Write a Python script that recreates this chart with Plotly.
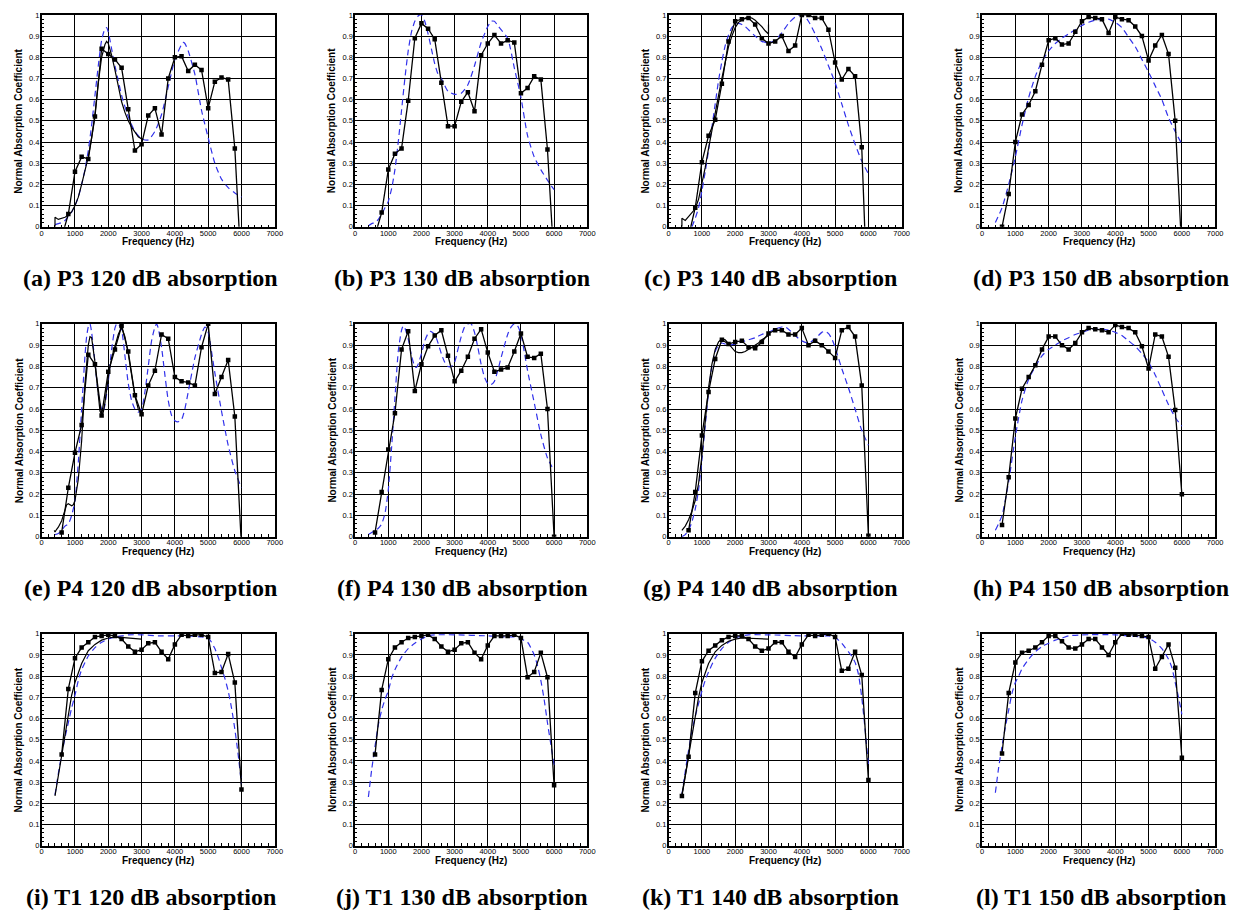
import plotly.graph_objects as go

# ---------------------------------------------------------------------------
# Data: normal-incidence absorption coefficient vs frequency (Hz)
# meas  : swept-sine measurement, 200 Hz steps (black line + squares)
# low   : low-frequency measurement up to 3 kHz (plain black line)
# model : impedance model prediction (blue dashed)
# ---------------------------------------------------------------------------
freq_meas = [600, 800, 1000, 1200, 1400, 1600, 1800, 2000, 2200, 2400, 2600, 2800, 3000, 3200,
             3400, 3600, 3800, 4000, 4200, 4400, 4600, 4800, 5000, 5200, 5400, 5600, 5800, 6000]
freq_meas_400 = [400] + freq_meas

# (a) P3 120 dB
p3_120_meas = [-0.05, 0.06, 0.26, 0.33, 0.32, 0.52, 0.84, 0.815, 0.79, 0.75, 0.555, 0.36, 0.39, 0.525,
               0.56, 0.435, 0.70, 0.80, 0.805, 0.735, 0.765, 0.74, 0.56, 0.685, 0.705, 0.695, 0.37, -0.22]
p3_120_low_f = [400, 400, 500, 600, 700, 800, 900, 1000, 1100, 1200, 1300, 1400, 1500, 1600, 1700, 1800,
                1900, 1950, 2000, 2100, 2200, 2300, 2400, 2500, 2600, 2700, 2800, 2900, 3000, 3050]
p3_120_low = [0.0, 0.045, 0.035, 0.04, 0.045, 0.055, 0.07, 0.10, 0.14, 0.20, 0.26, 0.33, 0.42, 0.53, 0.68, 0.80,
              0.86, 0.875, 0.865, 0.81, 0.74, 0.66, 0.59, 0.54, 0.50, 0.47, 0.445, 0.425, 0.415, 0.415]
p3_120_model_f = [400, 500, 600, 700, 800, 900, 1000, 1100, 1200, 1300, 1400, 1500, 1600, 1700, 1800, 1900,
                  1950, 2000, 2100, 2200, 2300, 2400, 2600, 2800, 3000, 3200, 3400, 3600, 3800, 4000, 4200,
                  4250, 4300, 4400, 4600, 4800, 5000, 5200, 5400, 5600, 5800, 6000]
p3_120_model = [0.01, 0.015, 0.02, 0.03, 0.05, 0.07, 0.10, 0.14, 0.20, 0.27, 0.36, 0.48, 0.62, 0.76, 0.88, 0.935,
                0.94, 0.92, 0.84, 0.76, 0.69, 0.62, 0.52, 0.45, 0.415, 0.41, 0.45, 0.53, 0.66, 0.79, 0.86,
                0.87, 0.865, 0.83, 0.72, 0.55, 0.42, 0.30, 0.225, 0.185, 0.16, 0.14]

# (b) P3 130 dB
p3_130_meas = [-0.04, 0.067, 0.27, 0.345, 0.37, 0.595, 0.89, 0.96, 0.935, 0.885, 0.68, 0.475, 0.475, 0.59,
               0.635, 0.545, 0.81, 0.865, 0.905, 0.865, 0.88, 0.87, 0.63, 0.655, 0.71, 0.695, 0.365, -0.17]
p3_130_model_f = [400, 500, 600, 700, 800, 900, 1000, 1100, 1200, 1300, 1400, 1500, 1600, 1700, 1800, 1900,
                  2000, 2100, 2200, 2300, 2400, 2500, 2600, 2800, 3000, 3200, 3400, 3600, 3800, 4000, 4100,
                  4200, 4300, 4400, 4600, 4800, 5000, 5200, 5400, 5600, 5800, 6000]
p3_130_model = [0.005, 0.015, 0.02, 0.035, 0.06, 0.09, 0.12, 0.18, 0.27, 0.40, 0.55, 0.70, 0.83, 0.92, 0.97, 0.995,
                1.0, 0.97, 0.91, 0.84, 0.77, 0.72, 0.70, 0.64, 0.625, 0.63, 0.67, 0.76, 0.87, 0.945, 0.97,
                0.97, 0.95, 0.93, 0.89, 0.75, 0.61, 0.43, 0.33, 0.27, 0.22, 0.175]

# (c) P3 140 dB
p3_140_meas = [-0.045, 0.09, 0.305, 0.43, 0.505, 0.675, 0.875, 0.97, 0.98, 0.985, 0.955, 0.89, 0.865, 0.875,
               0.90, 0.83, 0.855, 1.0, 1.0, 0.985, 0.985, 0.93, 0.775, 0.695, 0.745, 0.71, 0.375, -0.47]
p3_140_low_f = [400, 400, 500, 600, 700, 800, 900, 1000, 1100, 1200, 1300, 1400, 1500, 1600, 1700, 1800,
                1900, 2000, 2100, 2200, 2300, 2400, 2500, 2600, 2700, 2800, 2900, 3000, 3000]
p3_140_low = [0.0, 0.04, 0.03, 0.05, 0.065, 0.085, 0.13, 0.20, 0.28, 0.37, 0.46, 0.54, 0.62, 0.70, 0.78, 0.85,
              0.90, 0.94, 0.965, 0.975, 0.985, 0.99, 0.985, 0.975, 0.96, 0.945, 0.925, 0.91, 0.955]
p3_140_model_f = [700, 800, 900, 1000, 1100, 1200, 1300, 1400, 1500, 1600, 1700, 1800, 1900, 2000, 2100, 2200,
                  2300, 2400, 2600, 2800, 3000, 3200, 3400, 3600, 3800, 3950, 4100, 4200, 4400, 4600, 4800,
                  5000, 5200, 5400, 5600, 5800, 6000]
p3_140_model = [0.0, 0.04, 0.09, 0.17, 0.26, 0.36, 0.47, 0.58, 0.69, 0.78, 0.855, 0.905, 0.94, 0.955, 0.96, 0.955,
                0.945, 0.93, 0.90, 0.875, 0.868, 0.88, 0.915, 0.96, 0.99, 1.0, 0.99, 0.97, 0.91, 0.84, 0.76,
                0.68, 0.58, 0.48, 0.39, 0.31, 0.25]

# (d) P3 150 dB
p3_150_meas = [0.0, 0.155, 0.40, 0.53, 0.575, 0.64, 0.765, 0.88, 0.89, 0.86, 0.865, 0.92, 0.97, 0.99,
               0.985, 0.98, 0.915, 0.99, 0.98, 0.975, 0.945, 0.90, 0.785, 0.855, 0.905, 0.815, 0.50, -0.12]
p3_150_model_f = [400, 600, 800, 1000, 1200, 1400, 1600, 1800, 2000, 2200, 2400, 2600, 2800, 3000, 3200,
                  3400, 3600, 3800, 4000, 4200, 4400, 4600, 4800, 5000, 5200, 5400, 5600, 5800, 6000]
p3_150_model = [0.02, 0.09, 0.20, 0.33, 0.48, 0.61, 0.71, 0.78, 0.83, 0.865, 0.89, 0.91, 0.93, 0.95, 0.965,
                0.975, 0.98, 0.98, 0.965, 0.94, 0.895, 0.85, 0.79, 0.73, 0.665, 0.60, 0.515, 0.45, 0.39]

# (e) P4 120 dB
p4_120_meas = [0.02, 0.23, 0.395, 0.525, 0.855, 0.81, 0.57, 0.775, 0.88, 0.99, 0.87, 0.665, 0.575, 0.71,
               0.78, 0.95, 0.93, 0.75, 0.73, 0.725, 0.71, 0.89, 1.0, 0.67, 0.75, 0.83, 0.565, -0.05]
p4_120_low_f = [380, 400, 450, 500, 600, 700, 750, 800, 850, 900, 950, 1000, 1100, 1200, 1300, 1400, 1450,
                1500, 1600, 1700, 1750, 1800, 1850, 1900, 2000, 2100, 2200, 2300, 2400, 2500, 2600, 2700,
                2800, 2900, 3000]
p4_120_low = [0.03, 0.022, 0.035, 0.045, 0.075, 0.12, 0.15, 0.155, 0.15, 0.145, 0.15, 0.17, 0.27, 0.45, 0.72,
              0.90, 0.94, 0.935, 0.82, 0.65, 0.59, 0.575, 0.585, 0.63, 0.75, 0.84, 0.90, 0.95, 0.985, 0.94,
              0.86, 0.75, 0.66, 0.60, 0.575]
p4_120_model_f = [400, 500, 600, 700, 800, 900, 1000, 1100, 1200, 1300, 1350, 1400, 1450, 1500, 1600, 1700,
                  1800, 1850, 1900, 2000, 2100, 2200, 2250, 2300, 2400, 2500, 2600, 2700, 2800, 2900, 3000,
                  3100, 3200, 3300, 3400, 3450, 3500, 3600, 3700, 3800, 3900, 4000, 4100, 4200, 4300, 4400,
                  4600, 4800, 4900, 5000, 5100, 5200, 5400, 5600, 5800, 6000]
p4_120_model = [0.01, 0.015, 0.03, 0.05, 0.06, 0.10, 0.17, 0.35, 0.60, 0.85, 0.94, 0.985, 1.0, 0.96, 0.82, 0.67,
                0.60, 0.59, 0.62, 0.73, 0.88, 0.98, 1.0, 1.0, 0.97, 0.85, 0.72, 0.64, 0.60, 0.585, 0.60,
                0.68, 0.80, 0.92, 0.985, 1.0, 0.98, 0.89, 0.76, 0.64, 0.57, 0.545, 0.54, 0.55, 0.60, 0.68,
                0.84, 0.95, 0.985, 0.96, 0.87, 0.77, 0.59, 0.43, 0.31, 0.23]

# (f) P4 130 dB
p4_130_meas = [0.02, 0.21, 0.41, 0.58, 0.88, 0.965, 0.685, 0.81, 0.895, 0.945, 0.97, 0.85, 0.73, 0.78,
               0.845, 0.93, 0.975, 0.865, 0.775, 0.785, 0.795, 0.87, 0.955, 0.845, 0.84, 0.86, 0.60, 0.0]
p4_130_model_f = [400, 500, 600, 700, 800, 900, 1000, 1100, 1200, 1300, 1400, 1450, 1500, 1600, 1700, 1800,
                  1850, 1900, 2000, 2100, 2200, 2270, 2400, 2500, 2600, 2700, 2800, 2900, 3000, 3100, 3200,
                  3300, 3400, 3500, 3600, 3700, 3800, 3900, 4000, 4100, 4200, 4300, 4400, 4600, 4700, 4800,
                  4900, 5000, 5100, 5200, 5400, 5600, 5800, 6000]
p4_130_model = [0.01, 0.02, 0.03, 0.04, 0.06, 0.11, 0.22, 0.42, 0.65, 0.87, 0.97, 0.99, 0.98, 0.93, 0.85, 0.80,
                0.795, 0.81, 0.86, 0.92, 0.955, 0.965, 0.95, 0.91, 0.86, 0.82, 0.80, 0.80, 0.82, 0.88, 0.94,
                0.985, 1.0, 1.0, 0.96, 0.89, 0.81, 0.75, 0.72, 0.715, 0.73, 0.78, 0.84, 0.95, 0.985, 1.0,
                0.99, 0.95, 0.87, 0.78, 0.63, 0.48, 0.37, 0.31]

# (g) P4 140 dB
p4_140_meas = [0.03, 0.21, 0.475, 0.68, 0.835, 0.925, 0.905, 0.915, 0.92, 0.89, 0.885, 0.915, 0.955, 0.97,
               0.97, 0.95, 0.95, 0.98, 0.90, 0.92, 0.90, 0.87, 0.84, 0.97, 0.985, 0.94, 0.71, 0.005]
p4_140_low_f = [400, 500, 600, 700, 800, 900, 1000, 1100, 1200, 1300, 1400, 1500, 1600, 1700, 1800, 1900,
                2000, 2100, 2200, 2300, 2400, 2500, 2600, 2700, 2800, 2900, 3000]
p4_140_low = [0.03, 0.05, 0.08, 0.12, 0.17, 0.25, 0.38, 0.55, 0.70, 0.81, 0.88, 0.915, 0.93, 0.925, 0.905,
              0.885, 0.87, 0.865, 0.865, 0.87, 0.88, 0.89, 0.90, 0.91, 0.925, 0.935, 0.945]
p4_140_model_f = [400, 500, 600, 700, 800, 900, 1000, 1100, 1200, 1300, 1400, 1500, 1600, 1700, 1800, 2000,
                  2200, 2400, 2600, 2800, 3000, 3200, 3400, 3500, 3600, 3800, 4000, 4200, 4400, 4600, 4700,
                  4800, 4900, 5000, 5100, 5200, 5400, 5600, 5800, 6000]
p4_140_model = [0.0, 0.01, 0.03, 0.07, 0.13, 0.22, 0.36, 0.52, 0.68, 0.80, 0.87, 0.90, 0.91, 0.905, 0.90, 0.905,
                0.915, 0.925, 0.935, 0.95, 0.96, 0.975, 0.985, 0.985, 0.975, 0.945, 0.92, 0.91, 0.93, 0.96,
                0.965, 0.955, 0.93, 0.89, 0.84, 0.79, 0.70, 0.60, 0.50, 0.43]

# (h) P4 150 dB
p4_150_meas = [0.055, 0.28, 0.555, 0.695, 0.75, 0.805, 0.88, 0.94, 0.94, 0.90, 0.88, 0.91, 0.96, 0.98,
               0.975, 0.97, 0.96, 0.995, 0.985, 0.98, 0.96, 0.895, 0.79, 0.95, 0.94, 0.845, 0.595, 0.20]
p4_150_model_f = [400, 600, 800, 1000, 1200, 1400, 1600, 1800, 2000, 2200, 2400, 2600, 2800, 3000, 3200,
                  3400, 3600, 3800, 4000, 4200, 4400, 4600, 4800, 5000, 5200, 5400, 5600, 5800, 6000]
p4_150_model = [0.03, 0.10, 0.26, 0.47, 0.64, 0.74, 0.80, 0.85, 0.88, 0.90, 0.92, 0.935, 0.95, 0.96, 0.97,
                0.975, 0.975, 0.97, 0.96, 0.945, 0.92, 0.895, 0.86, 0.82, 0.76, 0.69, 0.62, 0.56, 0.52]

# (i) T1 120 dB
t1_120_meas = [0.43, 0.74, 0.885, 0.935, 0.96, 0.985, 0.99, 0.995, 0.99, 0.975, 0.94, 0.915, 0.925, 0.955,
               0.96, 0.915, 0.88, 0.95, 0.995, 0.99, 0.995, 0.995, 0.985, 0.815, 0.82, 0.905, 0.77, 0.265]
t1_120_low_f = [400, 500, 600, 700, 800, 900, 1000, 1100, 1200, 1300, 1400, 1600, 1800, 2000, 2200, 3000]
t1_120_low = [0.235, 0.33, 0.43, 0.54, 0.63, 0.71, 0.77, 0.82, 0.86, 0.89, 0.92, 0.95, 0.97, 0.98, 0.985, 0.975]
t1_120_model_f = [400, 500, 600, 700, 800, 900, 1000, 1100, 1200, 1400, 1600, 1800, 2000, 2200, 2400, 2600,
                  3000, 3500, 4000, 4400, 4800, 5000, 5100, 5200, 5300, 5400, 5500, 5600, 5700, 5800, 5900,
                  6000]
t1_120_model = [0.24, 0.34, 0.43, 0.51, 0.58, 0.65, 0.71, 0.78, 0.83, 0.895, 0.935, 0.96, 0.975, 0.985, 0.99,
                0.995, 0.995, 0.99, 0.99, 0.99, 0.985, 0.98, 0.96, 0.93, 0.89, 0.84, 0.79, 0.73, 0.65, 0.55,
                0.43, 0.29]

# (j) T1 130 dB
t1_130_meas = [0.43, 0.735, 0.88, 0.935, 0.96, 0.98, 0.985, 0.99, 0.995, 0.975, 0.94, 0.915, 0.925, 0.955,
               0.96, 0.91, 0.88, 0.945, 0.99, 0.99, 0.99, 0.995, 0.98, 0.795, 0.82, 0.91, 0.795, 0.285]
t1_130_model_f = [400, 500, 600, 700, 800, 900, 1000, 1100, 1200, 1400, 1600, 1800, 2000, 2200, 2400, 3000,
                  4000, 4500, 4800, 5000, 5200, 5400, 5500, 5600, 5700, 5800, 5900, 6000]
t1_130_model = [0.23, 0.36, 0.47, 0.57, 0.64, 0.69, 0.73, 0.79, 0.83, 0.89, 0.93, 0.955, 0.975, 0.99, 0.995,
                0.995, 0.99, 0.985, 0.985, 0.975, 0.96, 0.90, 0.85, 0.78, 0.69, 0.58, 0.48, 0.38]

# (k) T1 140 dB
t1_140_meas = [0.235, 0.42, 0.72, 0.87, 0.92, 0.945, 0.97, 0.985, 0.99, 0.99, 0.975, 0.94, 0.92, 0.93, 0.96,
               0.96, 0.915, 0.89, 0.95, 0.995, 0.99, 0.995, 1.0, 0.985, 0.825, 0.835, 0.915, 0.805, 0.31]
t1_140_low_f = [400, 500, 600, 700, 800, 900, 1000, 1100, 1200, 1400, 1600, 1800, 2000, 2200, 3000]
t1_140_low = [0.24, 0.33, 0.43, 0.53, 0.62, 0.70, 0.77, 0.82, 0.86, 0.915, 0.945, 0.965, 0.975, 0.98, 0.975]
t1_140_model_f = [400, 500, 600, 700, 800, 900, 1000, 1100, 1200, 1400, 1600, 1800, 2000, 2200, 2400, 3000,
                  4000, 4500, 4800, 5000, 5100, 5200, 5300, 5400, 5500, 5600, 5700, 5800, 5900, 6000]
t1_140_model = [0.24, 0.35, 0.45, 0.54, 0.61, 0.67, 0.73, 0.78, 0.82, 0.885, 0.93, 0.96, 0.98, 0.99, 0.995,
                0.995, 0.99, 0.99, 0.99, 0.985, 0.97, 0.955, 0.935, 0.915, 0.895, 0.865, 0.81, 0.70, 0.55, 0.38]

# (l) T1 150 dB
t1_150_meas = [0.435, 0.72, 0.865, 0.91, 0.92, 0.935, 0.96, 0.99, 0.99, 0.965, 0.935, 0.93, 0.95, 0.975,
               0.975, 0.935, 0.90, 0.96, 1.0, 0.995, 0.995, 0.99, 0.985, 0.835, 0.89, 0.95, 0.84, 0.415]
t1_150_model_f = [400, 500, 600, 700, 800, 900, 1000, 1100, 1200, 1400, 1600, 1800, 2000, 2200, 2400, 2600,
                  3000, 4000, 4400, 4800, 5000, 5200, 5400, 5600, 5700, 5800, 5900, 6000]
t1_150_model = [0.25, 0.37, 0.47, 0.56, 0.64, 0.72, 0.77, 0.80, 0.835, 0.88, 0.915, 0.94, 0.955, 0.97, 0.98,
                0.99, 0.995, 0.995, 0.99, 0.985, 0.98, 0.96, 0.93, 0.88, 0.84, 0.77, 0.70, 0.62]

captions = ["(a) P3 120 dB absorption", "(b) P3 130 dB absorption", "(c) P3 140 dB absorption",
            "(d) P3 150 dB absorption", "(e) P4 120 dB absorption", "(f) P4 130 dB absorption",
            "(g) P4 140 dB absorption", "(h) P4 150 dB absorption", "(i) T1 120 dB absorption",
            "(j) T1 130 dB absorption", "(k) T1 140 dB absorption", "(l) T1 150 dB absorption"]

# panel table: (measured x, measured y, low-freq x, low-freq y, model x, model y)
panels = [
    (freq_meas, p3_120_meas, p3_120_low_f, p3_120_low, p3_120_model_f, p3_120_model),
    (freq_meas, p3_130_meas, None, None, p3_130_model_f, p3_130_model),
    (freq_meas, p3_140_meas, p3_140_low_f, p3_140_low, p3_140_model_f, p3_140_model),
    (freq_meas, p3_150_meas, None, None, p3_150_model_f, p3_150_model),
    (freq_meas, p4_120_meas, p4_120_low_f, p4_120_low, p4_120_model_f, p4_120_model),
    (freq_meas, p4_130_meas, None, None, p4_130_model_f, p4_130_model),
    (freq_meas, p4_140_meas, p4_140_low_f, p4_140_low, p4_140_model_f, p4_140_model),
    (freq_meas, p4_150_meas, None, None, p4_150_model_f, p4_150_model),
    (freq_meas, t1_120_meas, t1_120_low_f, t1_120_low, t1_120_model_f, t1_120_model),
    (freq_meas, t1_130_meas, None, None, t1_130_model_f, t1_130_model),
    (freq_meas_400, t1_140_meas, t1_140_low_f, t1_140_low, t1_140_model_f, t1_140_model),
    (freq_meas, t1_150_meas, None, None, t1_150_model_f, t1_150_model),
]

# ---------------------------------------------------------------------------
# Page geometry (pixels)
# ---------------------------------------------------------------------------
W, H = 1243, 920
COL_X = [(40, 275), (356, 590), (672, 907), (988, 1223)]
ROW_Y = [(11, 225), (323, 538), (636, 850)]
CAPTION_X = [150, 464, 775, 1108]
CAPTION_DY = 52

BLUE = "rgb(50,50,235)"
SANS = "Liberation Sans, Arial, Helvetica, sans-serif"
SERIF = "Liberation Serif, Times New Roman, serif"

fig = go.Figure()
annotations = []
layout_axes = {}

for i, (mx, my, lx, ly, fx, fy) in enumerate(panels):
    n = i + 1
    row, col = divmod(i, 4)
    x0, x1 = COL_X[col]
    y0, y1 = ROW_Y[row]
    xname = "x" if n == 1 else f"x{n}"
    yname = "y" if n == 1 else f"y{n}"

    fig.add_trace(go.Scatter(x=fx, y=fy, mode="lines", xaxis=xname, yaxis=yname,
                             line=dict(color=BLUE, width=1.2, dash="6px,4px", shape="spline", smoothing=0.6),
                             hoverinfo="skip"))
    if lx is not None:
        fig.add_trace(go.Scatter(x=lx, y=ly, mode="lines", xaxis=xname, yaxis=yname,
                                 line=dict(color="black", width=1.2), hoverinfo="skip"))
    fig.add_trace(go.Scatter(x=mx, y=my, mode="lines+markers", xaxis=xname, yaxis=yname,
                             line=dict(color="black", width=1.3),
                             marker=dict(symbol="square", size=4.5, color="black"),
                             hoverinfo="skip"))

    common = dict(showgrid=True, gridcolor="black", gridwidth=1,
                  showline=True, linecolor="black", linewidth=1.5, mirror=True,
                  ticks="inside", ticklen=4, tickcolor="black", tickwidth=1,
                  tickfont=dict(family=SANS, size=7.5, color="black"),
                  zeroline=False, fixedrange=True)
    layout_axes[f"xaxis{'' if n == 1 else n}"] = dict(
        common, domain=[x0 / W, x1 / W], anchor=yname, range=[0, 7000], tick0=0, dtick=1000,
        ticklabelstandoff=-2,
        minor=dict(ticks="inside", ticklen=2.5, tickcolor="black", dtick=200, showgrid=False))
    layout_axes[f"yaxis{'' if n == 1 else n}"] = dict(
        common, domain=[1 - y1 / H, 1 - y0 / H], anchor=xname, range=[0, 1], tick0=0, dtick=0.1,
        ticklabelstandoff=-1,
        minor=dict(ticks="inside", ticklen=2.5, tickcolor="black", dtick=0.02, showgrid=False))

    # axis titles
    annotations.append(dict(text="Frequency (Hz)", x=(x0 + x1) / 2 / W, y=1 - (y1 + 15) / H,
                            xref="paper", yref="paper", xanchor="center", yanchor="middle",
                            showarrow=False, font=dict(family=SANS, size=10, color="black", weight="bold")))
    annotations.append(dict(text="Normal Absorption Coefficient", x=(x0 - 23) / W, y=1 - (y0 + y1) / 2 / H,
                            xref="paper", yref="paper", xanchor="center", yanchor="middle", textangle=-90,
                            showarrow=False, font=dict(family=SANS, size=10, color="black", weight="bold")))
    # panel caption
    annotations.append(dict(text=captions[i], x=CAPTION_X[col] / W, y=1 - (y1 + CAPTION_DY) / H,
                            xref="paper", yref="paper", xanchor="center", yanchor="middle",
                            showarrow=False, font=dict(family=SERIF, size=24, color="black", weight="bold")))

fig.update_layout(width=W, height=H, margin=dict(l=0, r=0, t=0, b=0), autosize=False,
                  paper_bgcolor="white", plot_bgcolor="white", showlegend=False,
                  annotations=annotations, **layout_axes)

fig.write_html("out.html")
